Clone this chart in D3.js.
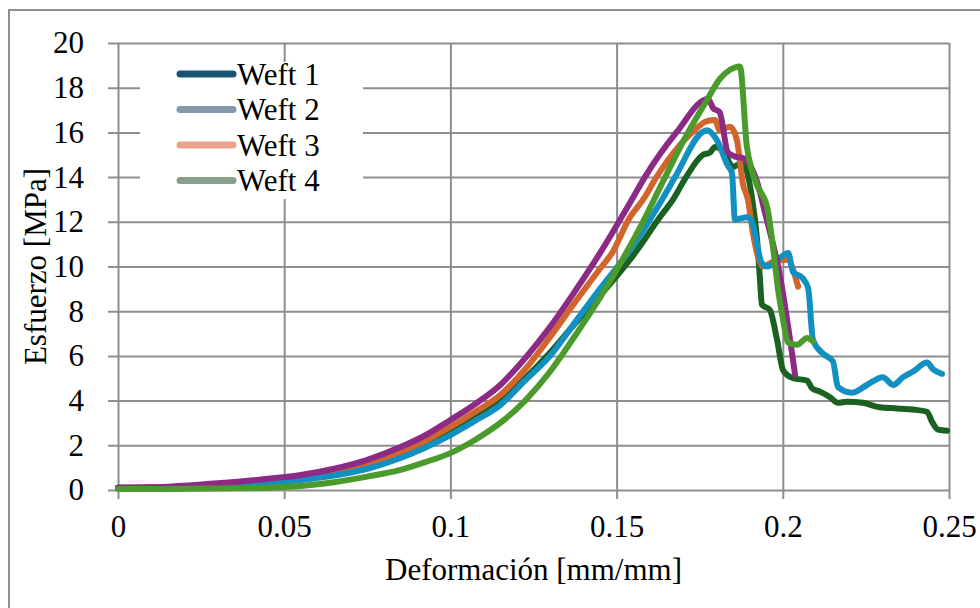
<!DOCTYPE html>
<html>
<head>
<meta charset="utf-8">
<script src="https://cdn.jsdelivr.net/npm/d3@7"></script>
<style>
  body { margin: 0; background: #fff; }
  text { font-family: "Liberation Serif", "Times New Roman", serif; fill: #000; }
</style>
</head>
<body>
<div id="chart"></div>
<script>
// strain [mm/mm], stress [MPa]
let specimen1 = [[0,0.1],[0.015,0.1],[0.03,0.2],[0.045,0.35],[0.055,0.5],[0.065,0.72],[0.075,1.05],[0.085,1.55],[0.0925,2.1],[0.1,2.7],[0.1075,3.3],[0.115,4.0],[0.1225,5.0],[0.13,6.15],[0.1375,7.45],[0.145,8.7],[0.1555,10.6],[0.163,12.2],[0.167,13.0],[0.1709,14.0],[0.176,15.0],[0.1781,15.1],[0.1796,15.35],[0.182,15.2],[0.185,14.45],[0.1871,14.6],[0.1886,14.45],[0.1907,13.1],[0.1922,11.3],[0.1931,9.5],[0.1937,8.3],[0.1961,8.05],[0.1983,6.7],[0.2001,5.35],[0.2031,5.0],[0.2073,4.9],[0.2088,4.55],[0.2112,4.4],[0.2142,4.15],[0.2166,3.9],[0.2193,3.95],[0.2241,3.9],[0.2292,3.7],[0.2344,3.65],[0.2392,3.6],[0.2434,3.5],[0.2449,3.05],[0.2467,2.7],[0.2494,2.65]];
let specimen2 = [[0,0.1],[0.015,0.1],[0.03,0.18],[0.045,0.3],[0.055,0.45],[0.065,0.65],[0.075,0.95],[0.085,1.43],[0.0925,1.9],[0.1,2.46],[0.1075,3.1],[0.115,3.8],[0.1225,4.9],[0.13,6.0],[0.1375,7.5],[0.145,9.0],[0.1534,10.6],[0.1637,13.0],[0.1676,14.0],[0.1757,16.0],[0.1772,16.1],[0.1802,15.65],[0.1835,14.5],[0.1847,14.2],[0.1856,12.1],[0.1892,12.2],[0.1907,12.0],[0.1937,10.15],[0.1953,10.0],[0.1992,10.4],[0.2016,10.6],[0.2031,9.75],[0.2058,9.5],[0.2076,9.05],[0.2091,6.7],[0.2121,6.1],[0.2151,5.75],[0.2166,4.6],[0.2208,4.35],[0.2253,4.7],[0.2301,5.05],[0.2332,4.7],[0.2362,5.05],[0.2392,5.3],[0.2434,5.7],[0.2452,5.4],[0.2479,5.2]];
let specimen3 = [[0,0.1],[0.015,0.12],[0.03,0.25],[0.045,0.42],[0.055,0.55],[0.065,0.8],[0.075,1.15],[0.085,1.7],[0.0925,2.2],[0.1,2.82],[0.1075,3.5],[0.115,4.25],[0.1225,5.4],[0.13,6.85],[0.1375,8.4],[0.145,9.9],[0.1486,10.6],[0.154,12.2],[0.158,13.0],[0.162,14.0],[0.1727,16.0],[0.1772,16.5],[0.1796,16.55],[0.181,16.1],[0.1841,16.25],[0.1862,15.65],[0.188,13.7],[0.1895,13.0],[0.191,11.5],[0.1941,10.0],[0.1968,10.2],[0.2013,10.3],[0.2046,9.1]];
let specimen4 = [[0,0.1],[0.015,0.15],[0.03,0.3],[0.045,0.5],[0.055,0.67],[0.065,0.95],[0.075,1.35],[0.085,1.92],[0.0925,2.45],[0.1,3.13],[0.1075,3.85],[0.115,4.7],[0.1225,5.9],[0.13,7.3],[0.1375,8.9],[0.145,10.6],[0.155,13.1],[0.1585,14.0],[0.168,16.0],[0.1775,17.5],[0.179,17.1],[0.181,16.9],[0.1835,15.1],[0.186,14.9],[0.188,14.85],[0.192,13.9],[0.195,12.2],[0.199,9.7],[0.2037,5.15]];
let specimen5 = [[0,0.05],[0.015,0.05],[0.03,0.07],[0.045,0.1],[0.055,0.18],[0.065,0.35],[0.075,0.6],[0.085,0.9],[0.0925,1.25],[0.1,1.65],[0.1075,2.25],[0.115,3.0],[0.1225,4.0],[0.13,5.3],[0.1375,6.9],[0.145,8.6],[0.1525,10.5],[0.1576,11.9],[0.1646,14.0],[0.1715,16.0],[0.1772,17.45],[0.1811,18.4],[0.1841,18.8],[0.1871,18.95],[0.1892,15.35],[0.1907,14.3],[0.1925,13.55],[0.1953,12.65],[0.1971,10.8],[0.1986,8.95],[0.2001,7.6],[0.2016,6.6],[0.2043,6.5],[0.2073,6.8],[0.2091,6.65]];

let curves = [specimen1, specimen3, specimen2, specimen4, specimen5];
let curveColors = ["#1b6121", "#d1652c", "#1290c2", "#8c2a86", "#4a9b2c"];

let legendNames = ["Weft 1", "Weft 2", "Weft 3", "Weft 4"];
let legendColors = ["#17546f", "#8598aa", "#eda08b", "#889f8a"];

let xTicks = [0, 0.05, 0.1, 0.15, 0.2, 0.25];
let yTicks = [0, 2, 4, 6, 8, 10, 12, 14, 16, 18, 20];

let w = 980, h = 608, padL = 118, padR = 949, padT = 43, padB = 490, grid = "#8e8e8e", fs = 31;

const svg = d3.select("#chart")
  .append("svg")
  .attr("width", w)
  .attr("height", h);

// outer frame, runs off the right and bottom edges
svg.append("rect")
  .attr("x", 9)
  .attr("y", 10)
  .attr("width", w + 20)
  .attr("height", h + 20)
  .attr("fill", "none")
  .attr("stroke", grid)
  .attr("stroke-width", 2);

const xScale = d3.scaleLinear().domain([0, 0.25]).range([padL, padR]);
const yScale = d3.scaleLinear().domain([0, 20]).range([padB, padT]);

const xAxis = d3.axisBottom(xScale)
  .tickValues(xTicks)
  .tickFormat(d => d3.format("~g")(d))
  .tickSizeOuter(0)
  .tickPadding(10);

const yAxis = d3.axisLeft(yScale)
  .tickValues(yTicks)
  .tickSizeOuter(0)
  .tickPadding(18);

let gx = svg.append("g")
  .attr("transform", "translate(0," + (padB + 9) + ")")
  .call(xAxis);

let gy = svg.append("g")
  .attr("transform", "translate(" + (padL - 10) + ",0)")
  .call(yAxis);

[gx, gy].forEach(g => {
  g.select(".domain").remove();
  g.selectAll("line").attr("stroke", grid).attr("stroke-width", 2);
  g.selectAll("text").attr("font-size", fs).attr("fill", "#000");
});
gx.selectAll("line").attr("y1", 0).attr("y2", -(padB - padT + 9));
gx.selectAll("text").attr("dy", "0.71em");
gy.selectAll("line").attr("x1", 0).attr("x2", padR - padL + 10);

// legend box hides the grid behind it
let legend = svg.append("g");
legend.append("rect")
  .attr("x", 140)
  .attr("y", 62)
  .attr("width", 223)
  .attr("height", 137)
  .attr("fill", "#fff");

legend.selectAll("line")
  .data(legendNames)
  .enter()
  .append("line")
  .attr("x1", 180)
  .attr("x2", 233)
  .attr("y1", (d, i) => 74 + i * 35.5)
  .attr("y2", (d, i) => 74 + i * 35.5)
  .attr("stroke", (d, i) => legendColors[i])
  .attr("stroke-width", 7)
  .attr("stroke-linecap", "round");

legend.selectAll("text")
  .data(legendNames)
  .enter()
  .append("text")
  .attr("x", 237)
  .attr("y", (d, i) => 74 + i * 35.5)
  .attr("dy", "0.35em")
  .attr("font-size", fs)
  .text(d => d);

let line = d3.line()
  .x(d => xScale(d[0]))
  .y(d => yScale(d[1]))
  .curve(d3.curveMonotoneX);

svg.selectAll(".curve")
  .data(curves)
  .enter()
  .append("path")
  .attr("class", "curve")
  .attr("d", line)
  .attr("fill", "none")
  .attr("stroke", (d, i) => curveColors[i])
  .attr("stroke-width", 6)
  .attr("stroke-linejoin", "round")
  .attr("stroke-linecap", "round");

svg.append("text")
  .attr("x", (padL + padR) / 2)
  .attr("y", 580)
  .attr("text-anchor", "middle")
  .attr("font-size", fs)
  .text("Deformación [mm/mm]");

svg.append("text")
  .attr("transform", "translate(46," + (padT + padB) / 2 + ") rotate(-90)")
  .attr("text-anchor", "middle")
  .attr("font-size", fs)
  .text("Esfuerzo [MPa]");
</script>
</body>
</html>
